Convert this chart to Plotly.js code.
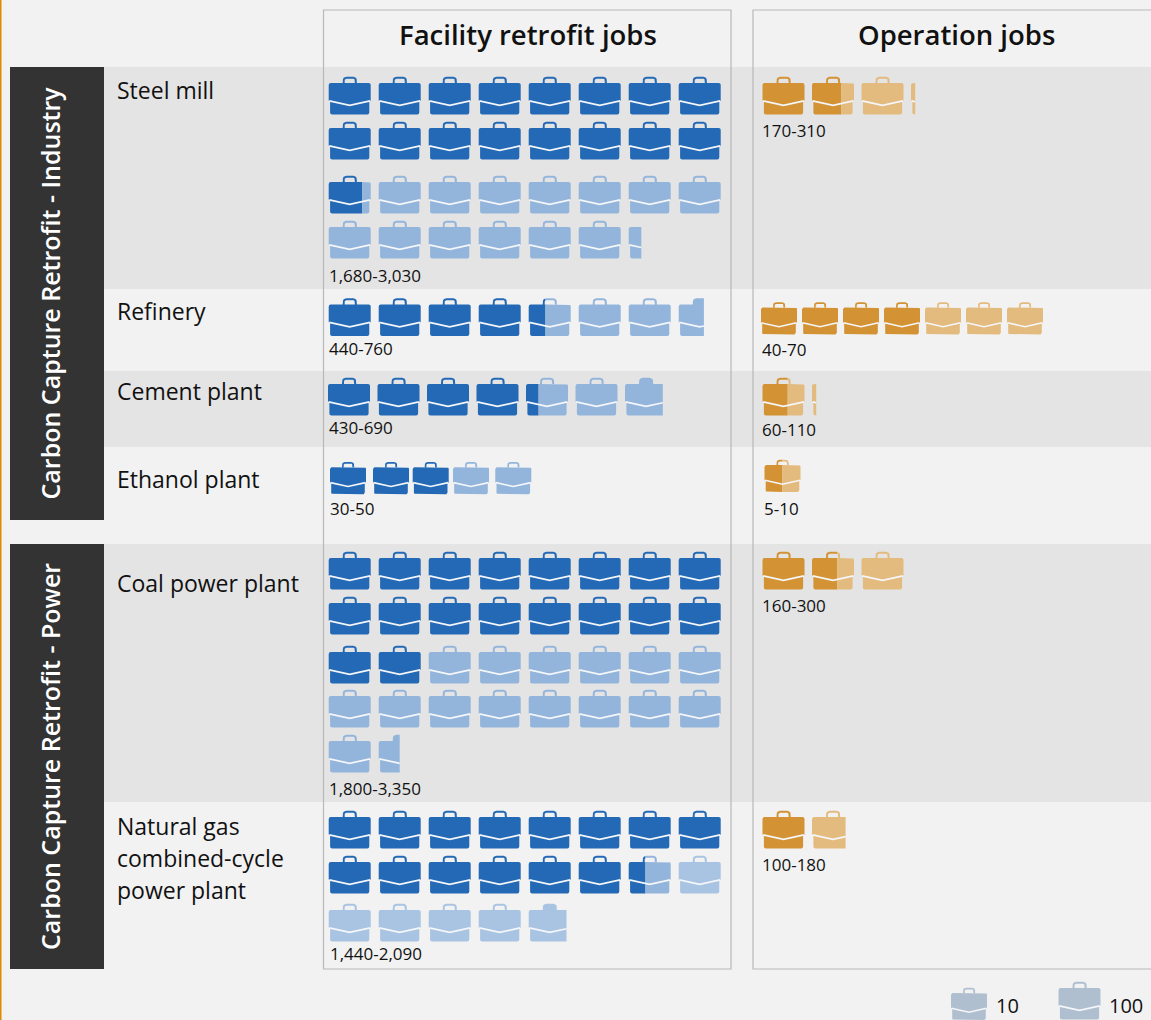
<!DOCTYPE html>
<html><head><meta charset="utf-8">
<script src="https://cdn.plot.ly/plotly-3.0.1.min.js"></script>
<style>html,body{margin:0;padding:0;background:#f2f2f2}#c{width:1151px;height:1020px}</style>
</head><body><div id="c"></div>
<script>
// ---------- data ----------
const categories = ['Steel mill','Refinery','Cement plant','Ethanol plant','Coal power plant','Natural gas<br>combined-cycle<br>power plant'];
const groups = ['Carbon Capture Retrofit - Industry','Carbon Capture Retrofit - Power'];
const columns = ['Facility retrofit jobs','Operation jobs'];
const retrofitLow  = [1680,440,430,30,1800,1440];
const retrofitHigh = [3030,760,690,50,3350,2090];
const retrofitUnit = [100,100,100,10,100,100];
const operationLow  = [170,40,60,5,160,100];
const operationHigh = [310,70,110,10,300,180];
const operationUnit = [100,10,100,10,100,100];
const legendUnits = [10,100];

// ---------- layout constants (pixel scale of the axes) ----------
const rowTopsRetrofit = [[83,128,182,227],[304.5],[384],[467.3],[558,603,652,696,741],[817,862,910]];
const rowTopsOperation = [[83],[307.5],[384],[465],[558],[817]];
const startRetrofit = [328.7,328.7,328,330,328.7,328.7];
const stepRetrofit = [50,50,49.5,43,50,50];
const ethanolSlots = [0,43,82.7,123,165.3];
const startOperation = [762.5,761,762.5,764.5,762.5,762.5];
const stepOperation = [49.5,41,49.5,41,49.5,49.5];
const wide = 42, narrow = 36, perRow = 8;

const BLUE='#2469b5', BLUEL='#93b5dc', BLUEXL='#a9c4e3';
const ORANGE='#d39233', ORANGEL='#e4bb7e', SLATE='#b0bfcf';

// ---------- icon geometry (unit icon 42 wide) ----------
function arc(cx,cy,r,a0,a1){const p=[];for(let k=0;k<=4;k++){const a=(a0+(a1-a0)*k/4)*Math.PI/180;p.push([cx+r*Math.cos(a),cy+r*Math.sin(a)]);}return p;}
const bodyShape=[...arc(2,2,2,180,270),...arc(40,2,2,270,360),[42,17.5],[40.6,18.5],...arc(38.6,29.5,2,0,90),...arc(3.4,29.5,2,90,180),[1.4,18.5],[0,17.5]];
const handleRing=[[14,0],...arc(17.5,-2.7,3.5,180,270),...arc(24.7,-2.7,3.5,270,360),[28.2,0],[26.2,0],...arc(24.7,-2.7,1.5,0,-90),...arc(17.5,-2.7,1.5,270,180),[16,0]];
const handleSolid=[[14,0],...arc(17.5,-2.7,3.5,180,270),...arc(24.7,-2.7,3.5,270,360),[28.2,0]];
const seam=[[0.6,17.9],[21,22.4],[41.4,17.9]];

function clip(poly,c,keepLeft){
  const out=[];const inside=p=>keepLeft?p[0]<=c:p[0]>=c;
  for(let i=0;i<poly.length;i++){
    const a=poly[i],b=poly[(i+1)%poly.length];
    const ia=inside(a),ib=inside(b);
    if(ia)out.push(a);
    if(ia!==ib){const t=(c-a[0])/(b[0]-a[0]);out.push([c,a[1]+t*(b[1]-a[1])]);}
  }
  return out;
}
function clipLine(line,lo,hi){
  const out=[];
  for(let i=0;i<line.length-1;i++){
    let a=line[i],b=line[i+1];
    const x0=Math.max(a[0],lo),x1=Math.min(b[0],hi);
    if(x1<=x0)continue;
    const y=x=>a[1]+(x-a[0])/(b[0]-a[0])*(b[1]-a[1]);
    if(!out.length)out.push([x0,y(x0)]);
    out.push([x1,y(x1)]);
  }
  return out;
}
const buckets={};const seams={x:[],y:[]};
function push(color,poly,ox,oy,s){
  if(poly.length<3)return;
  const b=buckets[color]||(buckets[color]={x:[],y:[]});
  poly.forEach(p=>{b.x.push(ox+p[0]*s);b.y.push(oy+p[1]*s);});
  b.x.push(poly[0][0]*s+ox);b.y.push(poly[0][1]*s+oy);
  b.x.push(null);b.y.push(null);
}
function icon(ox,oy,width,solid,total,dark,light,blob){
  const s=width/42;
  if(solid>0){
    const c=solid*42;
    push(dark,clip(bodyShape,c,true),ox,oy,s);
    push(dark,clip(handleRing,c,true),ox,oy,s);
  }
  if(total>solid){
    const lo=solid*42,hi=total*42;
    const cutL=p=>clip(p,lo,false), cutR=p=>clip(p,hi,true);
    push(light,cutR(cutL(bodyShape)),ox,oy,s);
    push(light,cutR(cutL(blob?handleSolid:handleRing)),ox,oy,s);
  }
  const l=clipLine(seam,0,total*42);
  l.forEach(p=>{seams.x.push(ox+p[0]*s);seams.y.push(oy+p[1]*s);});
  seams.x.push(null);seams.y.push(null);
}
function drawRow(low,high,unit,tops,xOf,width,dark,light,nextLight){
  const total=high/unit,solid=low/unit,n=Math.ceil(total);
  for(let i=0;i<n;i++){
    const sf=Math.max(0,Math.min(1,solid-i)),tf=Math.max(0,Math.min(1,total-i));
    const r=Math.floor(i/perRow),c=i%perRow;
    const col=(i>Math.ceil(solid)-1&&nextLight)?nextLight:light;
    const blob=tf<1&&tf>=0.5&&sf===0&&nextLight!==undefined;
    icon(xOf(c),tops[r],width,sf,tf,dark,col,blob);
  }
}
categories.forEach((_,i)=>{
  const xr=c=>startRetrofit[i]+(i===3?ethanolSlots[c]:c*stepRetrofit[i]);
  const xo=c=>startOperation[i]+c*stepOperation[i];
  drawRow(retrofitLow[i],retrofitHigh[i],retrofitUnit[i],rowTopsRetrofit[i],xr,retrofitUnit[i]===10?narrow:wide,BLUE,BLUEL,i===5?BLUEXL:BLUEL);
  drawRow(operationLow[i],operationHigh[i],operationUnit[i],rowTopsOperation[i],xo,operationUnit[i]===10?narrow:wide,ORANGE,ORANGEL);
});
// legend icons
icon(951,993,narrow,0,1,SLATE,SLATE);
icon(1058.5,988,wide,0,1,SLATE,SLATE);

const traces=Object.keys(buckets).map(col=>({type:'scatter',mode:'lines',x:buckets[col].x,y:buckets[col].y,fill:'toself',fillcolor:col,line:{width:0,color:col},hoverinfo:'skip',showlegend:false}));
traces.push({type:'scatter',mode:'lines',x:seams.x,y:seams.y,line:{color:'#f4f6f9',width:1.6},hoverinfo:'skip',showlegend:false});

// ---------- text ----------
const FONT='"Open Sans",sans-serif';
const fmt=v=>v.toLocaleString('en-US');
const catY=[90,311,391,479,583,826];
const catLine=32;
const rangeYr=[275.5,348.5,427.5,508.5,788.5,953], rangeXr=[327,327,327,328,327,328];
const rangeYo=[130.5,349.5,429.5,508.5,605.5,864.5], rangeXo=[759.5,759.5,759.5,762,759.5,759.5];
const ann=[];
function txt(text,x,y,size,opt){ann.push(Object.assign({text,x,y,xref:'x',yref:'y',showarrow:false,xanchor:'left',yanchor:'middle',align:'left',font:{family:FONT,size,color:'#111'}},opt||{}));}
categories.forEach((c,i)=>{
  c.split('<br>').forEach((line,k)=>txt(line,115,catY[i]+k*catLine,23));
  txt(fmt(retrofitLow[i])+'-'+fmt(retrofitHigh[i]),rangeXr[i],rangeYr[i],17);
  txt(fmt(operationLow[i])+'-'+fmt(operationHigh[i]),rangeXo[i],rangeYo[i],17);
});
const bold=(size,color)=>({family:FONT,size,color,weight:600});
txt(columns[0],527.5,34,27.5,{xanchor:'center',font:bold(27.5,'#111')});
txt(columns[1],956.5,34,27.5,{xanchor:'center',font:bold(27.5,'#111')});
txt(groups[0],49.5,293,25,{xanchor:'center',textangle:-90,font:bold(25,'#fff')});
txt(groups[1],49.5,756.5,25,{xanchor:'center',textangle:-90,font:bold(25,'#fff')});
txt(String(legendUnits[0]),994,1005.5,20);
txt(String(legendUnits[1]),1107,1005.5,20);

// ---------- panels ----------
const rect=(x0,y0,x1,y1,fill,lineCol)=>({type:'rect',xref:'x',yref:'y',x0,y0,x1,y1,fillcolor:fill||'rgba(0,0,0,0)',line:{width:lineCol?1.2:0,color:lineCol||'rgba(0,0,0,0)'},layer:'below'});
const shapes=[
  rect(104,67,1153,289,'#e4e4e4'),
  rect(104,371,1153,447,'#e4e4e4'),
  rect(104,544,1153,802,'#e4e4e4'),
  rect(10,67,104,520,'#333333'),
  rect(10,544,104,969,'#333333'),
  rect(323.5,10,731,969,null,'#b8b8b8'),
  rect(753,10,1160,969,null,'#b8b8b8'),
  rect(0,0,1.5,1020,'#e08a00')
];

Plotly.newPlot('c',traces,{
  width:1151,height:1020,margin:{l:0,r:0,t:0,b:0},
  paper_bgcolor:'#f2f2f2',plot_bgcolor:'#f2f2f2',showlegend:false,
  xaxis:{range:[0,1151],visible:false,fixedrange:true},
  yaxis:{range:[1020,0],visible:false,fixedrange:true},
  shapes,annotations:ann,hovermode:false
},{displayModeBar:false,staticPlot:true});
</script></body></html>
